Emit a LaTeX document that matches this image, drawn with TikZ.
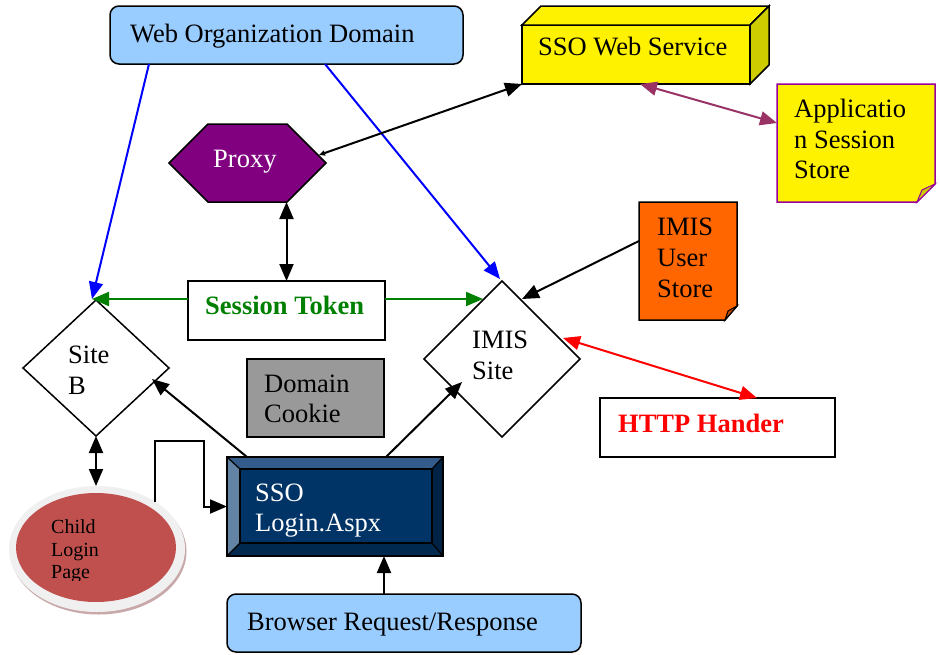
\documentclass[tikz,border=0pt]{standalone}
\usepackage{fontspec}
\setmainfont{Liberation Serif}
\usetikzlibrary{arrows.meta,shapes.geometric,calc}
\definecolor{lblue}{HTML}{99CCFF}
\definecolor{dyellow}{HTML}{CCCC00}
\definecolor{npurple}{HTML}{990099}
\definecolor{pxpurple}{HTML}{800080}
\definecolor{iorange}{HTML}{FF6600}
\definecolor{dorange}{HTML}{C04C00}
\definecolor{cgrey}{HTML}{999999}
\definecolor{navy}{HTML}{003366}
\definecolor{bevtop}{HTML}{335C8A}
\definecolor{bevleft}{HTML}{6283A4}
\definecolor{bevright}{HTML}{002244}
\definecolor{bevbot}{HTML}{00294F}
\definecolor{cred}{HTML}{C0504D}
\definecolor{cring}{HTML}{F0F0F0}
\definecolor{cshadow}{HTML}{C8A8A8}
\definecolor{tgreen}{HTML}{008000}
\definecolor{plum}{HTML}{993366}
\newcommand\dfont{\fontsize{26.5}{30}\selectfont}
\newcommand\cfont{\fontsize{20}{23}\selectfont}
\begin{document}
\begin{tikzpicture}[x=1pt,y=-1pt,
  box/.style={draw=black, line width=1.5pt, inner sep=0pt, outer sep=0pt},
  ghost/.style={inner sep=0pt, outer sep=0pt},
  txt/.style={anchor=base west, inner sep=0pt, font=\dfont},
  ctxt/.style={anchor=base west, inner sep=0pt, font=\cfont},
  conn/.style={line width=2pt, -{Triangle[length=17pt,width=14pt]}},
  dconn/.style={line width=2pt, {Triangle[length=17pt,width=14pt]}-{Triangle[length=17pt,width=14pt]}},
  shapeline/.style={line width=1.5pt, line join=miter}
]
\useasboundingbox (0,0) rectangle (940,654);

% Web Organization Domain
\node[box, rounded corners=9pt, fill=lblue, minimum width=353pt, minimum height=58pt] (wod) at (286.5,35) {};
\node[txt] (wodt) at (130,42) {Web Organization Domain};

% SSO Web Service (3D box)
\node[box, fill=yellow, minimum width=228pt, minimum height=59pt] (sws) at (636,54.5) {};
\draw[shapeline, fill=yellow] (sws.north west) -- ++(19,-19) -- ++(228,0) -- (sws.north east) -- cycle;
\draw[shapeline, fill=dyellow] (sws.north east) -- ++(19,-19) -- ++(0,59) -- (sws.south east) -- cycle;
\node[txt] (swst) at (538,55) {SSO Web Service};

% Application Session Store (note)
\node[ghost, minimum width=158pt, minimum height=118pt] (ass) at (856,143) {};
\draw[shapeline, draw=npurple, fill=yellow] (ass.north west) -- (ass.north east) -- ($(ass.south east)+(0,-18)$) -- ($(ass.south east)+(-18,0)$) -- (ass.south west) -- cycle;
\draw[line width=1pt, draw=npurple, fill=dyellow] ($(ass.south east)+(0,-18)$) -- ($(ass.south east)+(-13,-12)$) -- ($(ass.south east)+(-18,0)$) -- cycle;
\node[txt] (asst1) at (794,117) {Applicatio};
\node[txt] (asst2) at (794,148) {n Session};
\node[txt] (asst3) at (794,178) {Store};

% Proxy (hexagon)
\node[ghost, minimum width=157pt, minimum height=78pt] (px) at (247.5,163) {};
\draw[shapeline, fill=pxpurple] (px.west) -- ($(px.north west)+(39,0)$) -- ($(px.north east)+(-39,0)$) -- (px.east) -- ($(px.south east)+(-39,0)$) -- ($(px.south west)+(39,0)$) -- cycle;
\node[txt, text=white] (pxt) at (213,167) {Proxy};

% Session Token
\node[box, fill=white, minimum width=197pt, minimum height=59pt] (tok) at (286.5,310.5) {};
\node[txt, text=tgreen, font=\dfont\bfseries] (tokt) at (205,314) {Session Token};

% IMIS User Store (note)
\node[ghost, minimum width=98pt, minimum height=118pt] (ius) at (688,261) {};
\draw[shapeline, fill=iorange] (ius.north west) -- (ius.north east) -- ($(ius.south east)+(0,-14)$) -- ($(ius.south east)+(-12,0)$) -- (ius.south west) -- cycle;
\draw[line width=1pt, fill=dorange] ($(ius.south east)+(0,-14)$) -- ($(ius.south east)+(-9,-9)$) -- ($(ius.south east)+(-12,0)$) -- cycle;
\node[txt] (iust1) at (657,235) {IMIS};
\node[txt] (iust2) at (657,266) {User};
\node[txt] (iust3) at (657,297) {Store};

% Site B
\node[diamond, box, fill=white, minimum width=146pt, minimum height=136pt] (sb) at (96,368) {};
\node[txt] (sbt1) at (68,363) {Site};
\node[txt] (sbt2) at (68,394) {B};

% IMIS Site
\node[diamond, box, fill=white, minimum width=156pt, minimum height=156pt] (imis) at (502,359) {};
\node[txt] (imist1) at (472,348) {IMIS};
\node[txt] (imist2) at (472,379) {Site};

% Domain Cookie
\node[box, fill=cgrey, minimum width=137pt, minimum height=78pt] (dc) at (315.5,398) {};
\node[txt] (dct1) at (264,392) {Domain};
\node[txt] (dct2) at (264,422) {Cookie};

% HTTP Hander
\node[box, fill=white, minimum width=235pt, minimum height=59pt] (http) at (717.5,427.5) {};
\node[txt, text=red, font=\dfont\bfseries] (httpt) at (618,432) {HTTP Hander};

% Child Login Page
\node[ellipse, ghost, fill=cshadow, minimum width=176pt, minimum height=126pt] (childsh) at (98.5,551.5) {};
\node[ellipse, ghost, fill=cring, minimum width=176pt, minimum height=126pt] (child) at (97,549) {};
\node[ellipse, ghost, fill=cred, minimum width=160pt, minimum height=109pt] (childin) at (96,547.5) {};
\node[ctxt] (cht1) at (51,533) {Child};
\node[ctxt] (cht2) at (51,556) {Login};
\begin{scope}
\clip (30,560) rectangle (180,580);
\node[ctxt] (cht3) at (51,578) {Page};
\end{scope}

% SSO Login.Aspx (bevel)
\node[box, fill=navy, minimum width=216pt, minimum height=99pt] (login) at (335,506.5) {};
\coordinate (li1) at ($(login.north west)+(13,12)$);
\coordinate (li2) at ($(login.north east)+(-11,12)$);
\coordinate (li3) at ($(login.south east)+(-11,-13)$);
\coordinate (li4) at ($(login.south west)+(13,-13)$);
\fill[bevtop] (login.north west) -- (login.north east) -- (li2) -- (li1) -- cycle;
\fill[bevright] (login.north east) -- (login.south east) -- (li3) -- (li2) -- cycle;
\fill[bevbot] (login.south east) -- (login.south west) -- (li4) -- (li3) -- cycle;
\fill[bevleft] (login.south west) -- (login.north west) -- (li1) -- (li4) -- cycle;
\draw[line width=1.2pt] (login.north west) -- (li1) (login.north east) -- (li2) (login.south east) -- (li3) (login.south west) -- (li4);
\draw[line width=1.5pt, fill=navy] (li1) rectangle (li3);
\draw[line width=1.5pt] (login.north west) rectangle (login.south east);
\node[txt, text=white] (logint1) at (255,501) {SSO};
\node[txt, text=white] (logint2) at (255,531) {Login.Aspx};

% Browser Request/Response
\node[box, rounded corners=9pt, fill=lblue, minimum width=354pt, minimum height=58pt] (br) at (404,623) {};
\node[txt] (brt) at (247,630) {Browser Request/Response};

% Connectors
\draw[conn, blue] ($(wod.south west)+(39,0)$) -- ($(sb.north)+(-4,-1)$);
\draw[conn, blue] ($(wod.south west)+(215,0)$) -- ($(imis.north)+(-2,-2)$);
\draw[line width=2pt, {Triangle[length=6pt,width=5pt]}-{Triangle[length=17pt,width=14pt]}] ($(px.east)+(-7,-8)$) -- (sws.south west);
\draw[dconn] (tok.north |- px.south) -- (tok.north);
\draw[conn, tgreen] ($(tok.north west)+(0,18)$) -- ($(sb.north)+(-4,-1)$);
\draw[conn, tgreen] ($(tok.north east)+(0,18)$) -- ($(imis.north)+(-19,18)$);
\draw[conn] ($(ius.west)+(0,-20)$) -- ($(imis.north)+(20,18)$);
\draw[dconn, red] ($(imis.east)+(-17,-21)$) -- ($(http.north west)+(157,0)$);
\draw[dconn, plum] ($(sws.south west)+(118,0)$) -- ($(ass.north west)+(0,39)$);
\draw[conn] ($(login.north west)+(20,0)$) -- ($(sb.east)+(-17,11)$);
\draw[conn] ($(login.north west)+(159,0)$) -- ($(imis.west)+(38,23)$);
\draw[dconn] (sb.south) -- (sb.south |- child.north);
\draw[conn] ($(child.north)+(58,16)$) -- ($(child.north)+(58,-45)$) -- ($(child.north)+(107,-45)$) -- ($(login.west)+(-23,0)$) -- (login.west);
\draw[conn] ($(br.north)+(-20,0)$) -- ($(login.south)+(49,0)$);
\end{tikzpicture}
\end{document}
